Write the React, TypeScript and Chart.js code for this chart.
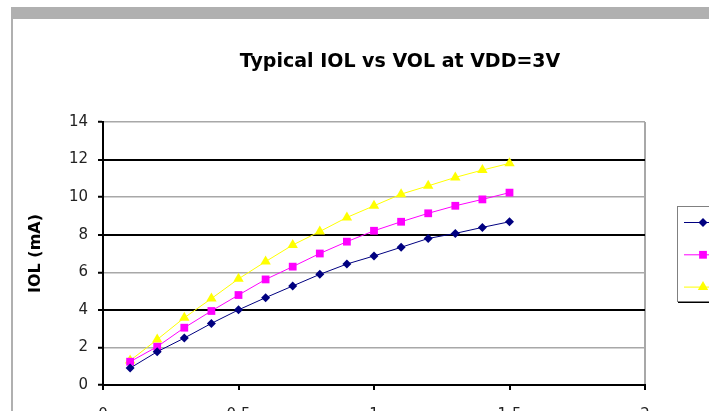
import React, { useEffect, useRef } from 'react';
import { Chart, registerables } from 'chart.js';

Chart.register(...registerables);

const titleText = 'Typical IOL vs VOL at VDD=3V';
const yAxisTitle = 'IOL (mA)';
const seriesLabels = ['85°C', '25°C', '-40°C'];
const seriesColors = ['#000080', '#ff00ff', '#ffff00'];
const seriesPointStyles = ['rectRot', 'rect', 'triangle'];

const volValues = [0.1, 0.2, 0.3, 0.4, 0.5, 0.6, 0.7, 0.8, 0.9, 1.0, 1.1, 1.2, 1.3, 1.4, 1.5];
const iolBlue = [0.9, 1.77, 2.5, 3.28, 4.0, 4.65, 5.27, 5.89, 6.44, 6.87, 7.33, 7.8, 8.07, 8.39, 8.69];
const iolMagenta = [1.24, 2.04, 3.05, 3.94, 4.79, 5.62, 6.3, 7.0, 7.63, 8.21, 8.69, 9.14, 9.54, 9.88, 10.24];
const iolYellow = [1.3, 2.42, 3.58, 4.6, 5.65, 6.57, 7.45, 8.17, 8.92, 9.54, 10.16, 10.6, 11.05, 11.44, 11.8];

const xTickValues = [0, 0.5, 1, 1.5, 2];
const yTickValues = [0, 2, 4, 6, 8, 10, 12, 14];
const yBlackGridValues = [4, 8, 12];

const W = 709;
const H = 440;

function drawMarker(ctx: CanvasRenderingContext2D, style: string, r: number, x: number, y: number) {
  ctx.beginPath();
  if (style === 'rectRot') {
    ctx.moveTo(x, y - r);
    ctx.lineTo(x + r, y);
    ctx.lineTo(x, y + r);
    ctx.lineTo(x - r, y);
  } else if (style === 'rect') {
    const s = r * Math.SQRT1_2;
    ctx.rect(x - s, y - s, 2 * s, 2 * s);
  } else {
    const h = r * 0.866;
    ctx.moveTo(x, y - r);
    ctx.lineTo(x + h, y + r / 2);
    ctx.lineTo(x - h, y + r / 2);
  }
  ctx.closePath();
  ctx.fill();
}

const overlayPlugin = {
  id: 'overlay',
  afterDraw(chart: any) {
    const { ctx, chartArea } = chart;
    ctx.save();
    // title
    ctx.font = 'bold 19px "DejaVu Sans"';
    ctx.fillStyle = '#000';
    ctx.textAlign = 'center';
    ctx.textBaseline = 'alphabetic';
    ctx.fillText(titleText, 400, 67);

    // legend
    const lx = chartArea.right + 32;
    const ly = chartArea.top + 84;
    ctx.strokeStyle = '#808080';
    ctx.lineWidth = 1;
    ctx.strokeRect(lx + 0.5, ly + 0.5, 80, 95);
    ctx.strokeStyle = '#000';
    ctx.beginPath();
    ctx.moveTo(lx + 1, ly + 96.5);
    ctx.lineTo(lx + 82, ly + 96.5);
    ctx.stroke();
    chart.data.datasets.forEach((ds: any, i: number) => {
      const y = ly + 16 + i * 32.3;
      ctx.strokeStyle = ds.borderColor;
      ctx.lineWidth = 1;
      ctx.beginPath();
      ctx.moveTo(lx + 7, y + 0.5);
      ctx.lineTo(lx + 40, y + 0.5);
      ctx.stroke();
      ctx.fillStyle = ds.pointBackgroundColor;
      drawMarker(ctx, ds.pointStyle, ds.pointRadius, lx + 26, y + 0.5);
      ctx.fillStyle = '#000';
      ctx.font = '13px "DejaVu Sans"';
      ctx.textAlign = 'left';
      ctx.textBaseline = 'middle';
      ctx.fillText(ds.label, lx + 44, y);
    });
    ctx.restore();
  },
};

export default function App() {
  const canvasRef = useRef<HTMLCanvasElement | null>(null);

  useEffect(() => {
    const canvas = canvasRef.current;
    if (!canvas) return;
    const seriesValues = [iolBlue, iolMagenta, iolYellow];
    const radii = [4.5, 5.5, 6];
    const chart = new Chart(canvas, {
      type: 'line',
      data: {
        datasets: seriesValues.map((vals, i) => ({
          label: seriesLabels[i],
          data: volValues.map((x, j) => ({ x, y: vals[j] })),
          borderColor: seriesColors[i],
          backgroundColor: seriesColors[i],
          pointBackgroundColor: seriesColors[i],
          pointBorderColor: seriesColors[i],
          pointStyle: seriesPointStyles[i] as any,
          pointRadius: radii[i],
          pointBorderWidth: 0,
          borderWidth: 1,
          tension: 0,
          fill: false,
        })),
      },
      options: {
        responsive: false,
        animation: false,
        devicePixelRatio: 1,
        layout: { padding: { left: 22, right: 64, top: 122, bottom: 0 } },
        plugins: {
          legend: { display: false },
          title: { display: false },
          tooltip: { enabled: false },
        },
        scales: {
          x: {
            type: 'linear',
            min: 0,
            max: 2,
            afterBuildTicks: (scale: any) => {
              scale.ticks = xTickValues.map((v) => ({ value: v }));
            },
            afterFit: (scale: any) => {
              scale.height = H - 385;
            },
            ticks: {
              color: '#222',
              font: { family: '"DejaVu Sans"', size: 15 },
              padding: 16,
              maxRotation: 0,
              callback: (v: any) => String(v),
            },
            grid: {
              color: (c: any) => (c.tick && c.tick.value === 2 ? '#a8a8a8' : 'rgba(0,0,0,0)'),
              lineWidth: 2,
              drawTicks: true,
              tickLength: 5,
              tickColor: '#000',
              tickWidth: 2,
            },
            border: { color: '#000', width: 2 },
          },
          y: {
            type: 'linear',
            min: 0,
            max: 14,
            afterBuildTicks: (scale: any) => {
              scale.ticks = yTickValues.map((v) => ({ value: v }));
            },
            afterFit: (scale: any) => {
              scale.width = 103 - 22;
            },
            ticks: {
              color: '#222',
              font: { family: '"DejaVu Sans"', size: 15 },
              padding: 10,
            },
            grid: {
              color: (c: any) =>
                c.tick && yBlackGridValues.includes(c.tick.value) ? '#000' : '#a8a8a8',
              lineWidth: (c: any) => (c.tick && yBlackGridValues.includes(c.tick.value) ? 2 : 1.5),
              drawTicks: true,
              tickLength: 5,
              tickColor: '#000',
              tickWidth: 2,
            },
            border: { color: '#000', width: 2 },
            title: {
              display: true,
              text: yAxisTitle,
              color: '#000',
              font: { family: '"DejaVu Sans"', size: 16, weight: 'bold' },
              padding: { top: 4, bottom: 4 },
            },
          },
        },
      },
      plugins: [overlayPlugin],
    });
    return () => chart.destroy();
  }, []);

  return (
    <div style={{ position: 'fixed', left: 0, top: 0, width: W, height: 411, overflow: 'hidden', background: '#fff' }}>
      <canvas ref={canvasRef} width={W} height={H} style={{ position: 'absolute', left: 0, top: 0, width: W, height: H }} />
      <div style={{ position: 'absolute', left: 11, top: 7, width: W - 11, height: 12, background: '#b0b0b0' }} />
      <div style={{ position: 'absolute', left: 11, top: 7, width: 2, height: 411, background: '#b0b0b0' }} />
    </div>
  );
}
